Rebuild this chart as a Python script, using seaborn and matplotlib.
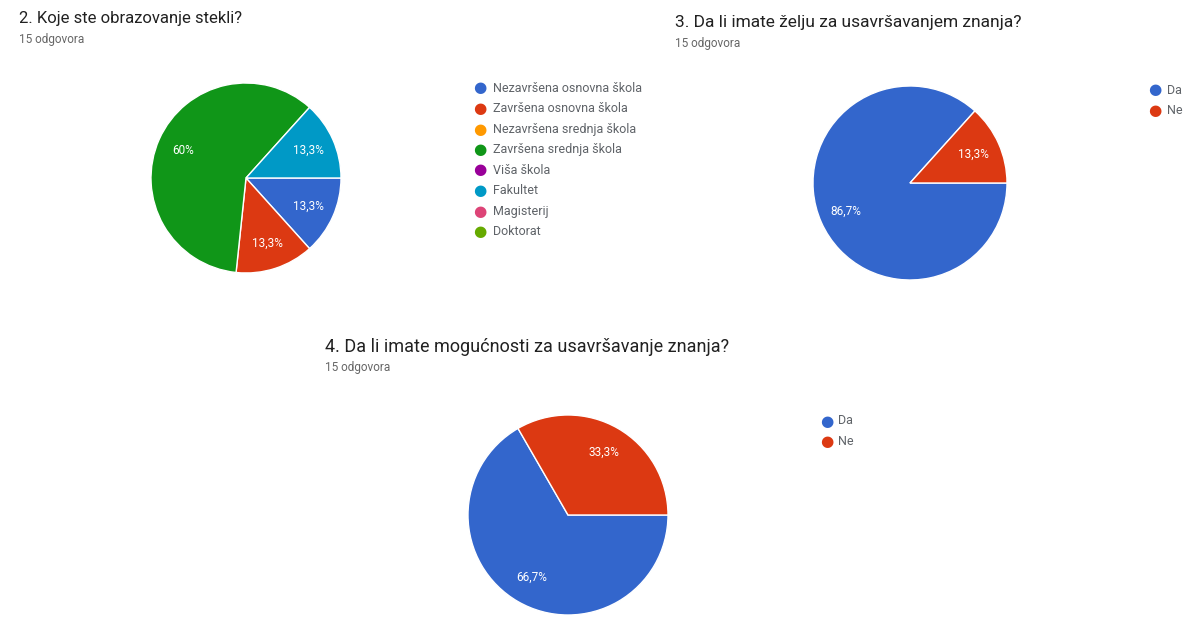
import numpy as np
import matplotlib.pyplot as plt
import seaborn as sns

sns.set_theme(style="white")
plt.rcParams["font.family"] = ["Roboto", "DejaVu Sans"]

# Podaci
obrazovanje = ["Nezavršena osnovna škola", "Završena osnovna škola",
               "Nezavršena srednja škola", "Završena srednja škola",
               "Viša škola", "Fakultet", "Magisterij", "Doktorat"]
obrazovanje_n = [2, 2, 0, 9, 0, 2, 0, 0]

da_ne = ["Da", "Ne"]
zelja_n = [13, 2]
mogucnost_n = [10, 5]

naslovi = ["2. Koje ste obrazovanje stekli?",
           "3. Da li imate želju za usavršavanjem znanja?",
           "4. Da li imate mogućnosti za usavršavanje znanja?"]
odgovori = "15 odgovora"

boje = ["#3366cc", "#dc3912", "#ff9900", "#109618",
        "#990099", "#0099c6", "#dd4477", "#66aa00"]

W, H = 1189, 617
fig = plt.figure(figsize=(W / 100, H / 100), dpi=100)


def px_axes(cx, cy, r):
    return fig.add_axes([(cx - r) / W, 1 - (cy + r) / H, 2 * r / W, 2 * r / H])


def fmt(p):
    s = f"{p:.1f}".rstrip("0").rstrip(".")
    return s.replace(".", ",") + "%"


def pita(ax, vrijednosti):
    vals = [v for v in vrijednosti if v > 0]
    cols = [boje[i] for i, v in enumerate(vrijednosti) if v > 0]
    ax.pie(vals, colors=cols, startangle=0, counterclock=False,
           autopct=fmt, pctdistance=0.72,
           wedgeprops=dict(edgecolor="white", linewidth=1),
           textprops=dict(color="white", fontsize=8.5))
    ax.set_xlim(-1, 1)
    ax.set_ylim(-1, 1)
    ax.set_aspect("equal")


def legenda(x, y, kategorije, razmak=20.5, pomak=13):
    for i, k in enumerate(kategorije):
        yy = 1 - (y + i * razmak) / H
        fig.text(x / W, yy, "●", color=boje[i], fontsize=11, va="center",
                 ha="center", family="DejaVu Sans")
        fig.text((x + pomak) / W, yy, k, color="#5f6368", fontsize=9, va="center")


def naslov(x, y, tekst, vel, vel2, razmak=21):
    fig.text(x / W, 1 - y / H, tekst, color="#212121", fontsize=vel, va="center")
    fig.text(x / W, 1 - (y + razmak) / H, odgovori, color="#666666",
             fontsize=vel2, va="center")


# 2. obrazovanje
naslov(19, 18, naslovi[0], 12, 8.5, 21)
pita(px_axes(246, 178, 95), obrazovanje_n)
legenda(480, 88, obrazovanje)

# 3. želja
naslov(675, 22, naslovi[1], 12.5, 8.5)
pita(px_axes(910, 183, 97), zelja_n)
legenda(1155, 90, da_ne, pomak=12)

# 4. mogućnosti
naslov(325, 347, naslovi[2], 13, 8.5)
pita(px_axes(568, 515, 100), mogucnost_n)
legenda(827, 421, da_ne, pomak=11)

fig.savefig("out.png", dpi=100, facecolor="white")
